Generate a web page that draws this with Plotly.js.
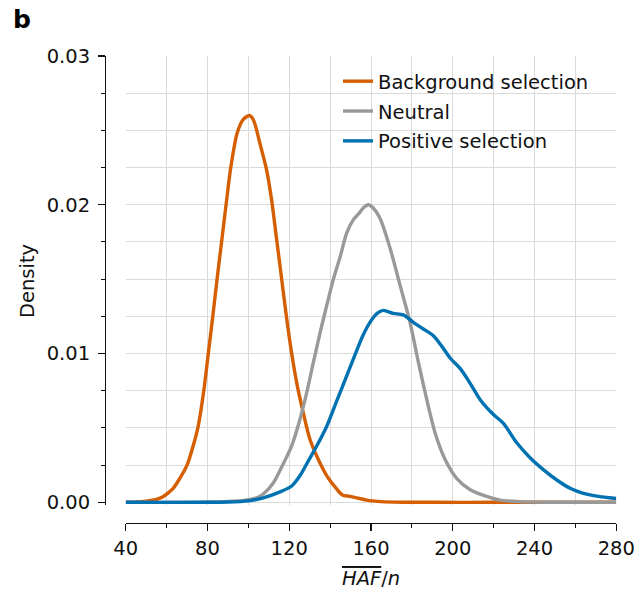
<!DOCTYPE html>
<html>
<head>
<meta charset="utf-8">
<script src="https://cdn.plot.ly/plotly-3.0.1.min.js"></script>
<style>html,body{margin:0;padding:0;background:#fff;}#chart{width:635px;height:592px;}</style>
</head>
<body>
<div id="chart"></div>
<script>
// Background selection
var bgX = [40, 45, 50, 55, 58, 60.5, 63, 66, 70, 72.8, 75.3, 78.2, 80.4, 82.6, 84.7, 86.9, 89.1, 91.4, 94.5, 97.3, 100.5, 102.5, 105.7, 109, 111.4, 113.9, 116.3, 118.8, 121.2, 123.7, 126.9, 130.2, 133.5, 138.3, 143.2, 146, 149.7, 153, 157.9, 165, 175, 190, 220, 250, 280];
var bgY = [0, 0.00002, 0.00008, 0.0002, 0.00035, 0.0006, 0.0009, 0.0015, 0.0025, 0.0037, 0.005, 0.0075, 0.01, 0.0125, 0.015, 0.0175, 0.02, 0.0225, 0.0248, 0.0257, 0.026, 0.0257, 0.0241, 0.0223, 0.0203, 0.0176, 0.015, 0.0123, 0.01, 0.008, 0.006, 0.0042, 0.0031, 0.0018, 0.0009, 0.0005, 0.0004, 0.0003, 0.00015, 0.00005, 0.00001, 0, 0, 0, 0];

// Neutral
var neuX = [40, 80, 95, 100, 104, 107.3, 112.2, 117.1, 121.2, 125.3, 128.6, 131.8, 135.1, 138.3, 141.6, 144.9, 148.1, 151.4, 154, 156.3, 158.7, 161, 164.4, 169.3, 174.2, 179.1, 183.2, 187.3, 191.3, 196.2, 202, 208.5, 216.6, 223.1, 232, 245, 280];
var neuY = [0, 0.00002, 0.0001, 0.00018, 0.0003, 0.00056, 0.0013, 0.0026, 0.0038, 0.0056, 0.0074, 0.0094, 0.0114, 0.0132, 0.015, 0.0165, 0.0181, 0.019, 0.0194, 0.0198, 0.02, 0.0198, 0.0191, 0.0171, 0.0146, 0.0121, 0.0094, 0.0069, 0.0047, 0.0029, 0.0016, 0.00085, 0.0004, 0.00015, 0.00005, 0.00001, 0];

// Positive selection
var posX = [40, 90, 100, 107.3, 115.5, 121.2, 125.3, 129.4, 133.5, 138.3, 143.2, 148.1, 153, 156, 159.5, 163, 166, 170.9, 175.8, 180.7, 185.6, 190.5, 194.6, 198.7, 203.6, 208.5, 213.4, 219.9, 224.8, 231.3, 237.8, 244.3, 250.9, 257.4, 263.9, 270.5, 280];
var posY = [0, 0.00002, 0.0001, 0.0003, 0.0007, 0.0011, 0.0018, 0.0028, 0.0038, 0.0051, 0.0068, 0.0085, 0.0102, 0.0112, 0.0121, 0.0127, 0.0129, 0.0127, 0.0126, 0.0121, 0.01165, 0.0112, 0.0105, 0.0097, 0.009, 0.008, 0.0069, 0.0059, 0.0053, 0.004, 0.003, 0.0022, 0.0015, 0.00094, 0.0006, 0.00042, 0.00026];

var seriesNames = ['Background selection', 'Neutral', 'Positive selection'];
var xTickVals = [40, 80, 120, 160, 200, 240, 280];
var yTickVals = [0, 0.01, 0.02, 0.03];
var yTickText = ['0.00', '0.01', '0.02', '0.03'];

var colors = ['#d55e00', '#999999', '#0072b2'];
var FONT = 'DejaVu Sans';

function mk(x, y, i) {
  return {
    x: x, y: y, name: seriesNames[i], type: 'scatter', mode: 'lines',
    legendgroup: 'g' + i,
    line: {color: colors[i], width: 3.4, shape: 'spline', smoothing: 0.8}
  };
}
var data = [mk(bgX, bgY, 0), mk(neuX, neuY, 1), mk(posX, posY, 2)];

var gridCol = '#dadada';
var layout = {
  width: 635, height: 592,
  margin: {l: 0, r: 0, t: 0, b: 0},
  paper_bgcolor: '#ffffff', plot_bgcolor: '#ffffff',
  font: {family: FONT, size: 19.5, color: '#111'},
  showlegend: true,
  legend: {
    x: 338 / 635, xanchor: 'left', y: (592 - 62) / 592, yanchor: 'top',
    bgcolor: 'rgba(0,0,0,0)', borderwidth: 0, tracegroupgap: 1.5,
    font: {family: FONT, size: 19.5, color: '#111'}
  },
  xaxis: {
    range: [40, 280], domain: [125.7 / 635, 616.3 / 635],
    anchor: 'free', position: (592 - 523) / 592,
    tickmode: 'array', tickvals: xTickVals,
    ticks: 'outside', ticklen: 7, tickwidth: 1.3, tickcolor: '#111',
    showline: true, linecolor: '#111', linewidth: 1.3,
    showgrid: true, gridcolor: gridCol, gridwidth: 1, zeroline: false,
    tickfont: {family: FONT, size: 19.5, color: '#111'},
    minor: {dtick: 20, tick0: 40, ticks: 'outside', ticklen: 4, tickwidth: 1, tickcolor: '#111',
            showgrid: true, gridcolor: gridCol, gridwidth: 1}
  },
  yaxis: {
    range: [-0.0002, 0.03], domain: [(592 - 505.3) / 592, (592 - 56) / 592],
    anchor: 'free', position: 105 / 635,
    tickmode: 'array', tickvals: yTickVals, ticktext: yTickText,
    ticks: 'outside', ticklen: 7, tickwidth: 1.3, tickcolor: '#111',
    ticklabelstandoff: 4,
    showline: true, linecolor: '#111', linewidth: 1.3,
    showgrid: true, gridcolor: gridCol, gridwidth: 1, zeroline: false,
    tickfont: {family: FONT, size: 19.5, color: '#111'},
    minor: {dtick: 0.0025, tick0: 0, ticks: 'outside', ticklen: 4, tickwidth: 1, tickcolor: '#111',
            showgrid: true, gridcolor: gridCol, gridwidth: 1}
  },
  annotations: [
    {text: '<b>b</b>', xref: 'paper', yref: 'paper', x: 11 / 635, y: (592 - 20) / 592,
     xanchor: 'left', yanchor: 'middle', showarrow: false,
     font: {family: FONT, size: 25, color: '#000'}},
    {text: 'Density', xref: 'paper', yref: 'paper', x: 27 / 635, y: (592 - 281) / 592,
     xanchor: 'center', yanchor: 'middle', textangle: -90, showarrow: false,
     font: {family: FONT, size: 19.5, color: '#111'}},
    {text: '<span style="text-decoration:overline"><i>HAF</i></span>/<i>n</i>', xref: 'paper', yref: 'paper',
     x: 371 / 635, y: (592 - 578) / 592,
     xanchor: 'center', yanchor: 'middle', showarrow: false,
     font: {family: FONT, size: 19.5, color: '#111'}}
  ]
};

Plotly.newPlot('chart', data, layout, {displayModeBar: false, staticPlot: true});
</script>
</body>
</html>
